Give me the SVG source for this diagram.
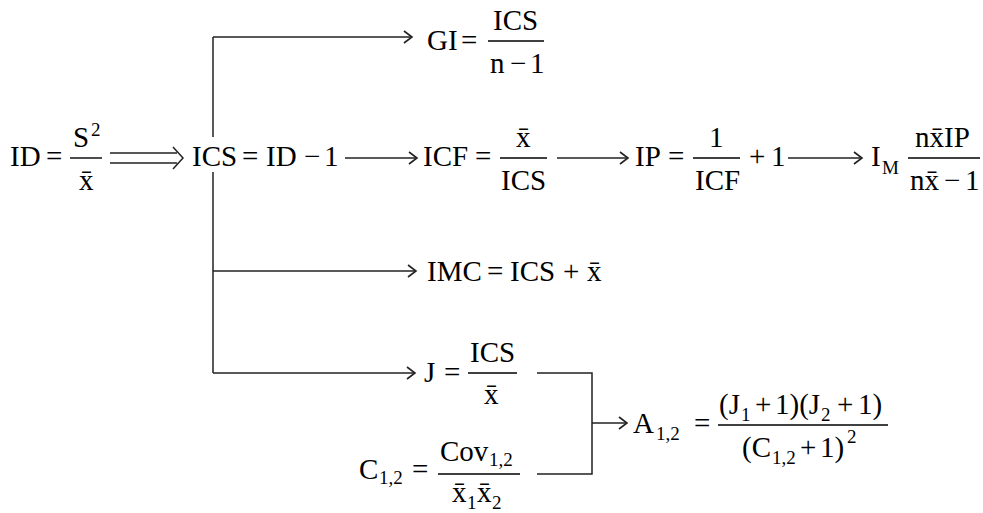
<svg xmlns="http://www.w3.org/2000/svg" width="983" height="513" viewBox="0 0 983 513" font-family="Liberation Serif, DejaVu Serif, serif">
<defs>
<style>
text{font-family:'Liberation Serif','DejaVu Serif',serif;font-size:29px;fill:#000}
.sub{font-size:19px}
.ln{stroke:#222;stroke-width:1.5;fill:none}
.bar{stroke:#000;stroke-width:1.4}
</style>
<marker id="ah" markerWidth="12" markerHeight="14" refX="10" refY="7" orient="auto" markerUnits="userSpaceOnUse">
<path d="M2,1 L10,7 L2,13" fill="none" stroke="#222" stroke-width="1.6"/>
</marker>
</defs>
<rect width="983" height="513" fill="#fff"/>

<g id="connectors">
<path class="ln" d="M110,153 H177 M110,163 H177"/>
<path class="ln" d="M173,147 L183,158 L173,169"/>
<path class="ln" d="M213,37 V137 M213,172 V373"/>
<path class="ln" d="M213,37 H412" marker-end="url(#ah)"/>
<path class="ln" d="M213,271 H416" marker-end="url(#ah)"/>
<path class="ln" d="M213,373 H415" marker-end="url(#ah)"/>
<path class="ln" d="M345,158 H417" marker-end="url(#ah)"/>
<path class="ln" d="M557,158 H628" marker-end="url(#ah)"/>
<path class="ln" d="M788,158 H862" marker-end="url(#ah)"/>
<path class="ln" d="M537,373 H592 V474 H537"/>
<path class="ln" d="M592,423 H627" marker-end="url(#ah)"/>
</g>

<g id="n-id">
<text x="10" y="166">ID</text>
<text x="46" y="166">=</text>
<line class="bar" x1="70" y1="158" x2="102" y2="158"/>
<text x="73" y="147">S</text>
<text class="sub" x="91" y="136">2</text>
<text x="79" y="190">x&#x304;</text>
</g>

<g id="n-ics">
<text x="192" y="166">ICS</text>
<text x="242" y="166">=</text>
<text x="266" y="166">ID</text>
<text x="304" y="166">−</text>
<text x="324" y="166">1</text>
</g>

<g id="n-gi">
<text x="427" y="50">GI</text>
<text x="461" y="50">=</text>
<line class="bar" x1="488" y1="41" x2="544" y2="41"/>
<text x="493" y="30">ICS</text>
<text x="490" y="73">n</text>
<text x="510" y="73">−</text>
<text x="530" y="73">1</text>
</g>

<g id="n-icf">
<text x="423" y="166">ICF</text>
<text x="475" y="166">=</text>
<line class="bar" x1="500" y1="158" x2="547" y2="158"/>
<text x="516" y="147">x&#x304;</text>
<text x="501" y="190">ICS</text>
</g>

<g id="n-ip">
<text x="635" y="166">IP</text>
<text x="668" y="166">=</text>
<line class="bar" x1="693" y1="158" x2="740" y2="158"/>
<text x="709" y="147">1</text>
<text x="695" y="190">ICF</text>
<text x="749" y="166">+</text>
<text x="771" y="166">1</text>
</g>

<g id="n-im">
<text x="871" y="166">I</text>
<text class="sub" x="882" y="174">M</text>
<line class="bar" x1="908" y1="158" x2="980" y2="158"/>
<text x="915" y="147">nx&#x304;IP</text>
<text x="910" y="190">nx&#x304;</text>
<text x="944" y="190">−</text>
<text x="965" y="190">1</text>
</g>

<g id="n-imc">
<text x="427" y="281">IMC</text>
<text x="487" y="281">=</text>
<text x="510" y="281">ICS</text>
<text x="563" y="281">+</text>
<text x="587" y="281">x&#x304;</text>
</g>

<g id="n-j">
<text x="424" y="382">J</text>
<text x="444" y="382">=</text>
<line class="bar" x1="468" y1="373" x2="517" y2="373"/>
<text x="470" y="362">ICS</text>
<text x="484" y="404">x&#x304;</text>
</g>

<g id="n-c">
<text x="359" y="479">C</text>
<text class="sub" x="379" y="484">1,2</text>
<text x="412" y="479">=</text>
<line class="bar" x1="438" y1="474" x2="520" y2="474"/>
<text x="440" y="461">Cov</text>
<text class="sub" x="489" y="466">1,2</text>
<text x="452" y="502">x&#x304;</text>
<text class="sub" x="467" y="509">1</text>
<text x="477" y="502">x&#x304;</text>
<text class="sub" x="492" y="509">2</text>
</g>

<g id="n-a">
<text x="633" y="433">A</text>
<text class="sub" x="656" y="440">1,2</text>
<text x="694" y="433">=</text>
<line class="bar" x1="718" y1="425" x2="888" y2="425"/>
<text x="719" y="414">(J</text>
<text class="sub" x="741" y="421">1</text>
<text x="755" y="414">+</text>
<text x="775" y="414">1)(J</text>
<text class="sub" x="821" y="421">2</text>
<text x="837" y="414">+</text>
<text x="858" y="414">1)</text>
<text x="742" y="457">(C</text>
<text class="sub" x="772" y="464">1,2</text>
<text x="800" y="457">+</text>
<text x="820" y="457">1)</text>
<text class="sub" x="847" y="443">2</text>
</g>
</svg>
